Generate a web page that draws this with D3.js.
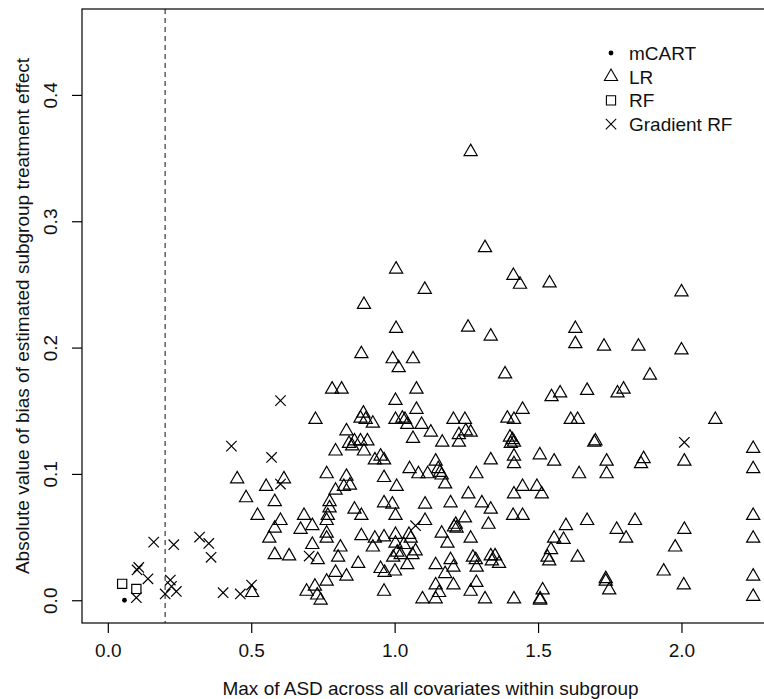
<!DOCTYPE html>
<html>
<head>
<meta charset="utf-8">
<script src="https://cdn.jsdelivr.net/npm/d3@7"></script>
<style>
  body { margin: 0; background: #fff; }
  svg { display: block; font-family: "Liberation Sans", Arial, Helvetica, sans-serif; }
</style>
</head>
<body>
<svg id="chart"></svg>
<script>
// ===============================
// Data
// ===============================
const xTicks = [0, 0.5, 1.0, 1.5, 2.0];
const yTicks = [0, 0.1, 0.2, 0.3, 0.4];
const xLabel = "Max of ASD across all covariates within subgroup";
const yLabel = "Absolute value of bias of estimated subgroup treatment effect";
const threshold = 0.2;

const legendLabels = ["mCART", "LR", "RF", "Gradient RF"];

const mcartPoints = [[0.058, 0.0]];

const rfPoints = [[0.050, 0.013], [0.0995, 0.009]];

const gradRfPoints = [
    [0.160, 0.046], [0.230, 0.044], [0.320, 0.050], [0.352, 0.045], [0.360, 0.034],
    [0.108, 0.026], [0.102, 0.024], [0.140, 0.017], [0.0995, 0.002], [0.218, 0.016],
    [0.222, 0.011], [0.200, 0.005], [0.239, 0.007], [0.402, 0.006], [0.462, 0.005],
    [0.501, 0.012], [0.431, 0.122], [0.571, 0.113], [0.602, 0.158], [0.602, 0.092],
    [0.702, 0.035], [1.073, 0.059], [2.010, 0.125]
];

const lrPoints = [
    // lower left cluster
    [0.482, 0.081], [0.582, 0.078], [0.522, 0.067], [0.602, 0.063], [0.582, 0.057],
    [0.563, 0.049], [0.582, 0.036], [0.632, 0.035], [0.503, 0.006], [0.684, 0.067],
    [0.713, 0.059], [0.672, 0.056], [0.773, 0.078], [0.773, 0.073], [0.767, 0.067],
    [0.763, 0.063], [0.763, 0.053], [0.763, 0.049], [0.713, 0.044], [0.732, 0.032],
    [0.811, 0.042], [0.803, 0.034], [0.860, 0.072], [0.884, 0.067], [0.884, 0.051],
    [0.873, 0.029], [0.794, 0.022], [0.832, 0.019], [0.763, 0.015], [0.693, 0.007],
    [0.722, 0.011], [0.730, 0.004], [0.742, 0.000], [0.963, 0.077], [0.992, 0.076],
    [1.003, 0.067], [0.931, 0.049], [0.963, 0.050], [0.924, 0.042], [1.003, 0.052],
    [1.003, 0.045], [0.995, 0.034], [0.951, 0.025], [0.965, 0.022], [1.001, 0.023],
    [0.963, 0.007],
    // middle left
    [0.782, 0.167], [0.815, 0.167], [1.003, 0.158], [0.724, 0.143], [0.891, 0.148],
    [0.881, 0.144], [0.899, 0.143], [0.924, 0.140], [1.003, 0.143], [0.832, 0.134],
    [0.841, 0.124], [0.860, 0.126], [0.881, 0.126], [0.905, 0.126], [0.852, 0.122],
    [0.893, 0.118], [0.794, 0.118], [0.951, 0.114], [0.963, 0.111], [0.931, 0.111],
    [0.451, 0.096], [0.552, 0.090], [0.614, 0.096], [0.763, 0.100], [0.832, 0.098],
    [0.844, 0.091], [0.823, 0.090], [0.794, 0.087], [0.963, 0.097], [1.007, 0.090],
    // middle
    [1.076, 0.167], [1.547, 0.161], [1.577, 0.164], [1.671, 0.166], [1.076, 0.151],
    [1.446, 0.151], [1.393, 0.144], [1.416, 0.143], [1.614, 0.143], [1.638, 0.143],
    [1.205, 0.143], [1.245, 0.143], [1.027, 0.144], [1.036, 0.143], [1.044, 0.139],
    [1.094, 0.139], [1.126, 0.133], [1.064, 0.128], [1.166, 0.125], [1.224, 0.131],
    [1.248, 0.134], [1.265, 0.133], [1.224, 0.125], [1.402, 0.129], [1.411, 0.127],
    [1.405, 0.124], [1.416, 0.125], [1.335, 0.111], [1.416, 0.114], [1.416, 0.108],
    [1.506, 0.115], [1.556, 0.110], [1.643, 0.100], [1.052, 0.104], [1.083, 0.100],
    [1.115, 0.100], [1.143, 0.110], [1.152, 0.104], [1.158, 0.101], [1.164, 0.099],
    [1.285, 0.100], [1.176, 0.092], [1.446, 0.090], [1.496, 0.090], [1.257, 0.084],
    [1.416, 0.084], [1.513, 0.084],
    // lower middle
    [1.106, 0.076], [1.195, 0.077], [1.304, 0.077], [1.335, 0.072], [1.413, 0.067],
    [1.446, 0.067], [1.106, 0.063], [1.245, 0.065], [1.213, 0.060], [1.207, 0.058],
    [1.216, 0.057], [1.327, 0.060], [1.597, 0.059], [1.671, 0.063], [1.050, 0.052],
    [1.056, 0.049], [1.164, 0.053], [1.184, 0.045], [1.265, 0.049], [1.556, 0.049],
    [1.589, 0.048], [1.545, 0.040], [1.533, 0.034], [1.539, 0.031], [1.638, 0.034],
    [1.032, 0.044], [1.009, 0.038], [1.021, 0.036], [1.073, 0.039], [1.062, 0.036],
    [1.044, 0.028], [1.143, 0.028], [1.195, 0.032], [1.205, 0.026], [1.176, 0.021],
    [1.273, 0.034], [1.283, 0.032], [1.286, 0.026], [1.335, 0.035], [1.350, 0.035],
    [1.364, 0.029], [1.339, 0.031], [1.143, 0.012], [1.205, 0.012], [1.285, 0.014],
    [1.265, 0.007], [1.155, 0.006], [1.097, 0.001], [1.143, 0.001], [1.315, 0.001],
    [1.416, 0.001], [1.516, 0.008], [1.507, 0.001], [1.507, 0.000],
    // right side
    [1.777, 0.164], [1.798, 0.167], [2.118, 0.143], [1.696, 0.125], [1.700, 0.126],
    [1.739, 0.110], [1.739, 0.100], [1.868, 0.112], [1.859, 0.108], [2.010, 0.110],
    [2.250, 0.120], [2.250, 0.104], [1.774, 0.056], [1.838, 0.063], [1.807, 0.049],
    [2.010, 0.056], [1.978, 0.042], [1.736, 0.017], [1.736, 0.015], [1.748, 0.008],
    [1.938, 0.023], [2.008, 0.012], [2.250, 0.067], [2.250, 0.049], [2.250, 0.019],
    [2.250, 0.003],
    // upper part
    [1.265, 0.355], [1.315, 0.279], [1.005, 0.262], [1.414, 0.257], [1.437, 0.250],
    [1.105, 0.246], [0.893, 0.234], [1.005, 0.215], [1.256, 0.216], [1.335, 0.209],
    [0.884, 0.195], [0.993, 0.191], [1.064, 0.191], [1.014, 0.184], [1.385, 0.179],
    [1.540, 0.251], [2.000, 0.244], [1.630, 0.215], [1.630, 0.203], [1.730, 0.201],
    [1.850, 0.201], [2.000, 0.198], [1.890, 0.178]
];

// ===============================
// Layout
// ===============================
const width = 764,
      height = 699,
      plot = { left: 82, right: 779, top: 9, bottom: 623 },
      fontSize = 19;

const svg = d3.select("#chart")
    .attr("width", width)
    .attr("height", height);

// R style limits: xlim c(0, 2.25), ylim c(0, 0.45) with 4% padding
const x = d3.scaleLinear()
    .domain([-0.09, 2.34])
    .range([plot.left, plot.right]);

const y = d3.scaleLinear()
    .domain([-0.018, 0.468])
    .range([plot.bottom, plot.top]);

// ===============================
// Marker shapes
// ===============================
function trianglePath(cx, cy) {
    const xc = 4.9, r = 1.555 * xc, half = 1.347 * xc, base = 0.778 * xc;
    return `M${cx},${cy - r}L${cx + half},${cy + base}L${cx - half},${cy + base}Z`;
}

function crossPath(cx, cy) {
    const h = 5.2;
    return `M${cx - h},${cy - h}L${cx + h},${cy + h}M${cx - h},${cy + h}L${cx + h},${cy - h}`;
}

function squarePath(cx, cy) {
    const h = 4.6;
    return `M${cx - h},${cy - h}h${2 * h}v${2 * h}h${-2 * h}Z`;
}

// ===============================
// Draw
// ===============================
drawAxes();
drawPoints();
drawLegend();

function drawAxes() {
    // dashed threshold line
    svg.append("line")
        .attr("x1", x(threshold)).attr("x2", x(threshold))
        .attr("y1", plot.top).attr("y2", plot.bottom)
        .attr("stroke", "#6a6a6a")
        .attr("stroke-width", 1.6)
        .attr("stroke-dasharray", "5,4");

    // box
    svg.append("rect")
        .attr("x", plot.left).attr("y", plot.top)
        .attr("width", plot.right - plot.left)
        .attr("height", plot.bottom - plot.top)
        .attr("fill", "none")
        .attr("stroke", "#000")
        .attr("stroke-width", 1.2);

    // x axis
    const gx = svg.append("g")
        .attr("transform", `translate(0, ${plot.bottom})`)
        .call(d3.axisBottom(x).tickValues(xTicks).tickFormat(d3.format(".1f"))
            .tickSize(10).tickPadding(11));
    gx.select(".domain").remove();
    gx.selectAll("line").attr("stroke", "#000").attr("stroke-width", 1.2);
    gx.selectAll("text")
        .attr("font-family", null)
        .attr("font-size", fontSize)
        .attr("fill", "#111");

    // y axis (labels parallel to axis, as in R)
    const gy = svg.append("g")
        .attr("transform", `translate(${plot.left}, 0)`)
        .call(d3.axisLeft(y).tickValues(yTicks).tickFormat(d3.format(".1f"))
            .tickSize(10));
    gy.select(".domain").remove();
    gy.selectAll("line").attr("stroke", "#000").attr("stroke-width", 1.2);
    gy.selectAll("text")
        .attr("x", 0)
        .attr("dy", 0)
        .attr("text-anchor", "middle")
        .attr("transform", "translate(-25,0) rotate(-90)")
        .attr("font-family", null)
        .attr("font-size", fontSize)
        .attr("fill", "#111");

    // axis titles
    svg.append("text")
        .attr("x", (plot.left + plot.right) / 2)
        .attr("y", 695)
        .attr("text-anchor", "middle")
        .attr("font-size", fontSize)
        .attr("fill", "#111")
        .text(xLabel);

    svg.append("text")
        .attr("transform", `translate(29, ${(plot.top + plot.bottom) / 2}) rotate(-90)`)
        .attr("text-anchor", "middle")
        .attr("font-size", fontSize)
        .attr("fill", "#111")
        .text(yLabel);
}

function drawPoints() {
    const g = svg.append("g")
        .attr("fill", "none")
        .attr("stroke", "#000")
        .attr("stroke-width", 1.2);

    g.selectAll(".lr")
        .data(lrPoints)
        .enter()
        .append("path")
        .attr("class", "lr")
        .attr("d", d => trianglePath(x(d[0]), y(d[1])));

    g.selectAll(".grf")
        .data(gradRfPoints)
        .enter()
        .append("path")
        .attr("class", "grf")
        .attr("d", d => crossPath(x(d[0]), y(d[1])));

    g.selectAll(".rf")
        .data(rfPoints)
        .enter()
        .append("path")
        .attr("class", "rf")
        .attr("d", d => squarePath(x(d[0]), y(d[1])));

    svg.selectAll(".mcart")
        .data(mcartPoints)
        .enter()
        .append("circle")
        .attr("class", "mcart")
        .attr("cx", d => x(d[0]))
        .attr("cy", d => y(d[1]))
        .attr("r", 2.4)
        .attr("fill", "#000");
}

function drawLegend() {
    const lx = 611, tx = 629, ly0 = 53, step = 23.7;
    const g = svg.append("g");

    legendLabels.forEach((label, i) => {
        const cy = ly0 + i * step;
        if (i === 0) {
            g.append("circle").attr("cx", lx).attr("cy", cy).attr("r", 2.4).attr("fill", "#000");
        } else {
            const shape = i === 1 ? trianglePath(lx, cy) : i === 2 ? squarePath(lx, cy) : crossPath(lx, cy);
            g.append("path").attr("d", shape)
                .attr("fill", "none").attr("stroke", "#000").attr("stroke-width", 1.1);
        }
        g.append("text")
            .attr("x", tx)
            .attr("y", cy)
            .attr("dy", "0.36em")
            .attr("font-size", fontSize)
            .attr("fill", "#111")
            .text(label);
    });
}
</script>
</body>
</html>
